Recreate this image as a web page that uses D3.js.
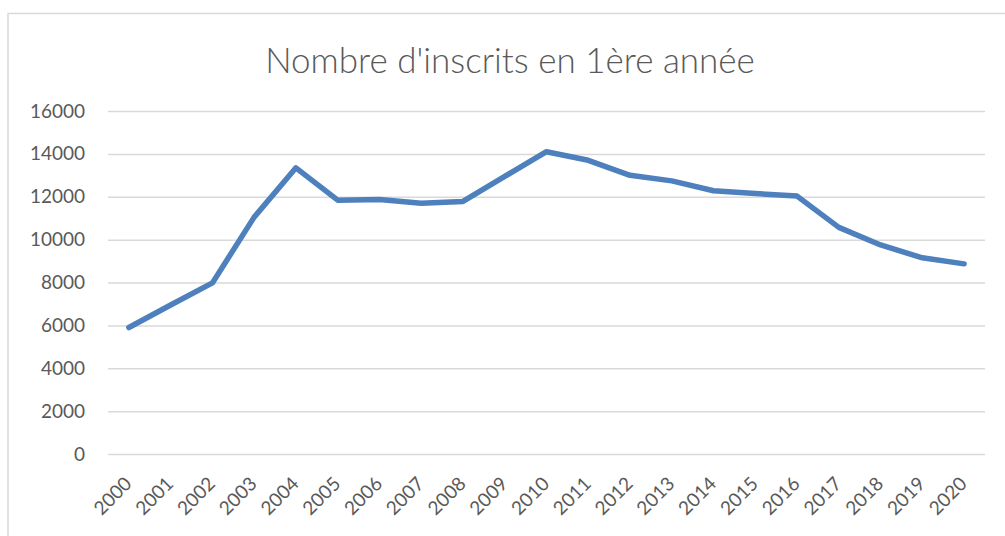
<!DOCTYPE html>
<html>
<head>
<meta charset="utf-8">
<script src="https://cdn.jsdelivr.net/npm/d3@7"></script>
<style>
    html, body { margin: 0; padding: 0; background: #fff; }
    #chart { width: 1005px; height: 536px; }
</style>
</head>
<body>
<div id="chart"></div>
<script>
var years = ["2000", "2001", "2002", "2003", "2004", "2005", "2006", "2007", "2008", "2009", "2010",
             "2011", "2012", "2013", "2014", "2015", "2016", "2017", "2018", "2019", "2020"];
var inscrits = [5900, 6950, 7980, 11050, 13350, 11840, 11870, 11700, 11780, 12950, 14100,
                13700, 13000, 12740, 12280, 12150, 12030, 10570, 9750, 9150, 8870];
var y_ticks = [0, 2000, 4000, 6000, 8000, 10000, 12000, 14000, 16000];
var title = "Nombre d'inscrits en 1ère année";

function draw_chart() {
    const SIZE_X = 1005;
    const SIZE_Y = 536;
    const LEFT = 108, RIGHT = 985, TOP = 111, BOTTOM = 454;
    const TEXT_COLOR = "#595959";
    const GRID_COLOR = "#d9d9d9";
    const LINE_COLOR = "#4e80bd";
    const FONT = "Lato, 'Open Sans', sans-serif";

    var svg = d3.select("#chart")
        .append("svg")
            .attr("width", SIZE_X)
            .attr("height", SIZE_Y);

    svg.append("rect")
        .attr("width", "100%")
        .attr("height", "100%")
        .attr("fill", "white");

    // chart frame (only left and top edges are visible in the crop)
    svg.append("rect")
        .attr("x", 8)
        .attr("y", 13.5)
        .attr("width", 1010)
        .attr("height", 540)
        .attr("fill", "none")
        .attr("stroke", GRID_COLOR)
        .attr("stroke-width", 1.5);

    var x = d3.scaleBand()
        .domain(years)
        .range([LEFT, RIGHT]);

    var y = d3.scaleLinear()
        .domain([0, 16000])
        .range([BOTTOM, TOP]);

    // gridlines + y labels
    var y_axis = svg.append("g")
        .attr("transform", "translate(" + LEFT + ",0)")
        .call(d3.axisLeft(y)
            .tickValues(y_ticks)
            .tickFormat(d3.format("d"))
            .tickSize(-(RIGHT - LEFT))
            .tickPadding(23));
    y_axis.select(".domain").remove();
    y_axis.selectAll(".tick line")
        .attr("stroke", GRID_COLOR)
        .attr("stroke-width", 1.5);
    y_axis.selectAll(".tick text")
        .attr("fill", TEXT_COLOR)
        .attr("font-family", FONT)
        .attr("font-size", "19px");

    // x labels, rotated
    var x_axis = svg.append("g")
        .attr("transform", "translate(0," + BOTTOM + ")")
        .call(d3.axisBottom(x).tickSize(0));
    x_axis.select(".domain").remove();
    x_axis.selectAll(".tick text")
        .attr("fill", TEXT_COLOR)
        .attr("font-family", FONT)
        .attr("font-size", "19px")
        .attr("text-anchor", "end")
        .attr("dy", "0")
        .attr("y", 0)
        .attr("transform", "translate(4,31) rotate(-45)");

    var line = d3.line()
        .x(function (d, i) { return x(years[i]) + x.bandwidth() / 2; })
        .y(function (d) { return y(d); });

    svg.append("path")
        .attr("d", line(inscrits))
        .attr("fill", "none")
        .attr("stroke", LINE_COLOR)
        .attr("stroke-width", 5.5)
        .attr("stroke-linejoin", "round")
        .attr("stroke-linecap", "round");

    svg.append("text")
        .attr("x", 510)
        .attr("y", 73)
        .attr("text-anchor", "middle")
        .attr("fill", TEXT_COLOR)
        .attr("font-family", FONT)
        .attr("font-weight", 300)
        .attr("font-size", "35px")
        .text(title);
}

draw_chart();
</script>
</body>
</html>
